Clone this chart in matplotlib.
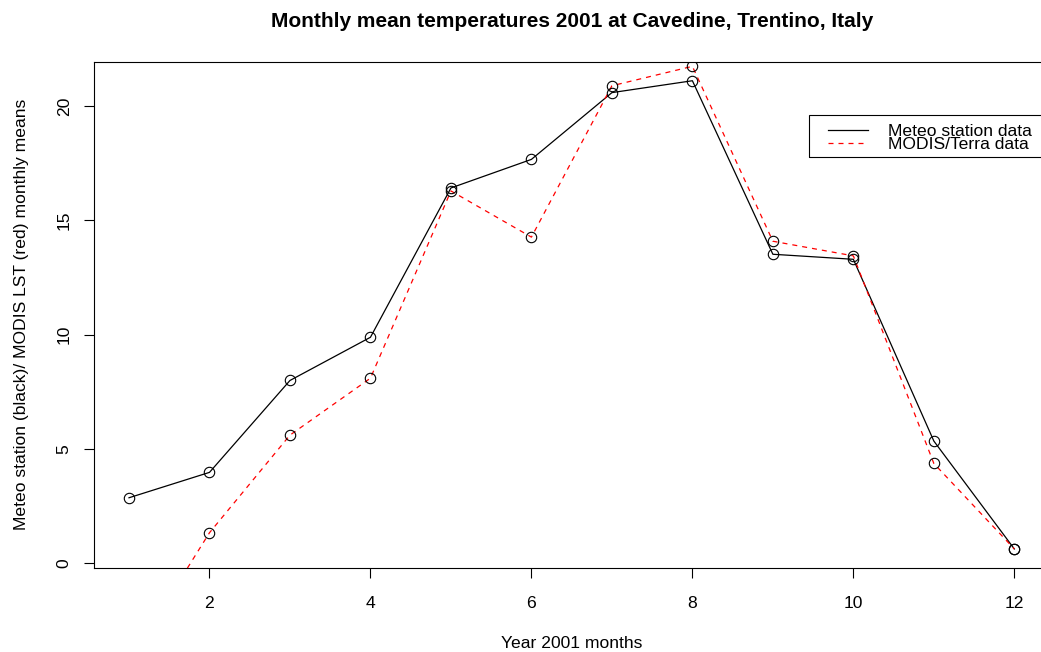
import numpy as np
import matplotlib
matplotlib.use("Agg")
import matplotlib.pyplot as plt
from matplotlib.patches import Rectangle

plt.rcParams['font.family'] = ['Liberation Sans', 'DejaVu Sans']

# monthly means 2001, Cavedine
months = [1, 2, 3, 4, 5, 6, 7, 8, 9, 10, 11, 12]
meteo = [2.87, 3.98, 8.00, 9.89, 16.42, 17.67, 20.59, 21.11, 13.52, 13.30, 5.35, 0.63]
modis = [-4.3, 1.34, 5.61, 8.10, 16.29, 14.27, 20.89, 21.74, 14.09, 13.45, 4.37, 0.63]

x_ticks = [2, 4, 6, 8, 10, 12]
y_ticks = [0, 5, 10, 15, 20]

W, H = 1041, 652
FS = 12.6

def r_range(v):
    # R style axis range, 4% extension on each side
    lo, hi = min(v), max(v)
    d = (hi - lo) * 0.04
    return lo - d, hi + d

fig = plt.figure(figsize=(W / 100, H / 100), dpi=100)
# plot region runs past the right edge of the picture (cropped original)
ax = fig.add_axes([0.0899, 0.1293, 0.9185, 0.7756])

ax.plot(months, meteo, color='black', lw=0.9, label='Meteo station data')
ax.plot(months, modis, color='red', lw=0.9, ls=(0, (4, 4)), label='MODIS/Terra data')
ax.plot(months, meteo, 'o', mfc='none', mec='black', ms=7.5, mew=0.8)
ax.plot(months, modis, 'o', mfc='none', mec='black', ms=7.5, mew=0.8)

ax.set_xlim(r_range(months))
ax.set_ylim(r_range(meteo))
ax.set_xticks(x_ticks)
ax.set_yticks(y_ticks)
ax.tick_params(axis='both', direction='out', length=7.2, width=0.8, labelsize=FS)
ax.tick_params(axis='x', pad=13)
ax.tick_params(axis='y', pad=8.5)
for lab in ax.get_yticklabels():
    lab.set_rotation(90)
    lab.set_va('center')
for s in ax.spines.values():
    s.set_linewidth(0.8)
ax.spines['right'].set_visible(False)

ax.set_title('Monthly mean temperatures 2001 at Cavedine, Trentino, Italy',
             fontsize=15, fontweight='bold', pad=25)
ax.set_xlabel('Year 2001 months', fontsize=FS, labelpad=18)
ax.set_ylabel('Meteo station (black)/ MODIS LST (red) monthly means', fontsize=FS, labelpad=20)

# legend: entries without frame, box drawn separately like R does
leg = ax.legend(loc='upper left', bbox_to_anchor=(828 / W, 1 - 124 / H),
                bbox_transform=fig.transFigure, fontsize=FS, frameon=False,
                handlelength=2.3, handletextpad=1.1, labelspacing=-0.16,
                borderpad=0, borderaxespad=0)
fig.patches.append(Rectangle((809 / W, 1 - 157 / H), 240 / W, 42 / H,
                             transform=fig.transFigure, fill=False,
                             edgecolor='black', lw=0.8))

fig.savefig('out.png', dpi=100)
